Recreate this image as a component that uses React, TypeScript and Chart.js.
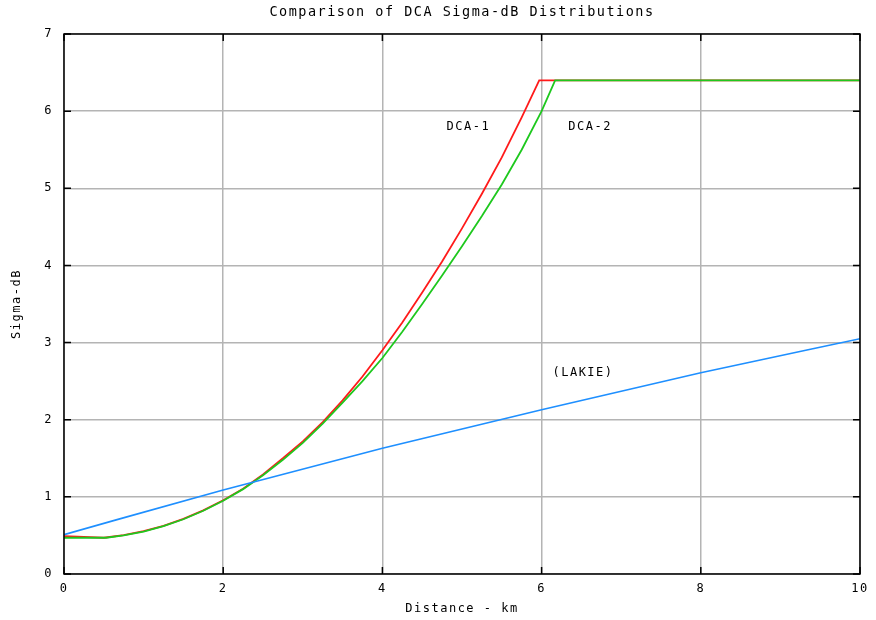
import React, { useEffect, useRef } from "react";
import { Chart, registerables } from "chart.js";

Chart.register(...registerables);

const TITLE = "Comparison of DCA Sigma-dB Distributions";
const X_TITLE = "Distance - km";
const Y_TITLE = "Sigma-dB";

const dca1X = [0, 0.5, 0.75, 1, 1.25, 1.5, 1.75, 2, 2.25, 2.5, 2.75, 3, 3.25, 3.5, 3.75, 4, 4.25, 4.5, 4.75, 5, 5.25, 5.5, 5.75, 5.97, 10];
const dca1Y = [0.49, 0.47, 0.505, 0.555, 0.625, 0.715, 0.825, 0.955, 1.105, 1.29, 1.5, 1.72, 1.97, 2.25, 2.56, 2.9, 3.26, 3.65, 4.05, 4.48, 4.93, 5.4, 5.92, 6.4, 6.4];

const dca2X = [0, 0.53, 0.75, 1, 1.25, 1.5, 1.75, 2, 2.25, 2.5, 2.75, 3, 3.25, 3.5, 3.75, 4, 4.25, 4.5, 4.75, 5, 5.25, 5.5, 5.75, 6, 6.17, 10];
const dca2Y = [0.47, 0.47, 0.5, 0.55, 0.62, 0.71, 0.82, 0.95, 1.1, 1.28, 1.48, 1.7, 1.95, 2.22, 2.5, 2.8, 3.14, 3.5, 3.87, 4.25, 4.64, 5.05, 5.5, 6.0, 6.4, 6.4];

const lakieX = [0, 2, 4, 6, 8, 10];
const lakieY = [0.51, 1.09, 1.63, 2.13, 2.61, 3.05];

const labelTexts = ["DCA-1", "DCA-2", "(LAKIE)"];
const labelX = [5.08, 6.61, 6.52];
const labelY = [5.79, 5.79, 2.61];

const FONT = "'DejaVu Sans Mono', 'Liberation Mono', monospace";

const toPoints = (xs: number[], ys: number[]) => xs.map((x, i) => ({ x, y: ys[i] }));

const spacingPlugin = {
  id: "spacing",
  beforeDraw(chart: any) {
    try {
      chart.ctx.letterSpacing = "1.5px";
    } catch (e) {}
  },
};

const framePlugin = {
  id: "frame",
  afterDatasetsDraw(chart: any) {
    const { ctx, chartArea, scales } = chart;
    const { left, right, top, bottom } = chartArea;
    ctx.save();
    ctx.strokeStyle = "#000";
    ctx.lineWidth = 1.5;
    ctx.strokeRect(left, top, right - left, bottom - top);
    const len = 7;
    ctx.beginPath();
    scales.x.ticks.forEach((t: any) => {
      const px = scales.x.getPixelForValue(t.value);
      ctx.moveTo(px, bottom);
      ctx.lineTo(px, bottom - len);
      ctx.moveTo(px, top);
      ctx.lineTo(px, top + len);
    });
    scales.y.ticks.forEach((t: any) => {
      const py = scales.y.getPixelForValue(t.value);
      ctx.moveTo(left, py);
      ctx.lineTo(left + len, py);
      ctx.moveTo(right, py);
      ctx.lineTo(right - len, py);
    });
    ctx.stroke();
    ctx.fillStyle = "#000";
    ctx.font = `12px ${FONT}`;
    ctx.textAlign = "center";
    ctx.textBaseline = "middle";
    labelTexts.forEach((txt, i) => {
      ctx.fillText(txt, scales.x.getPixelForValue(labelX[i]), scales.y.getPixelForValue(labelY[i]));
    });
    ctx.restore();
  },
};

export default function App() {
  const ref = useRef<HTMLCanvasElement | null>(null);
  useEffect(() => {
    document.body.style.margin = "0";
    const canvas = ref.current;
    if (!canvas) return;
    const chart = new Chart(canvas, {
      type: "line",
      data: {
        datasets: [
          {
            label: "LAKIE",
            data: toPoints(lakieX, lakieY),
            borderColor: "#1e8fff",
            borderWidth: 1.6,
            pointRadius: 0,
            cubicInterpolationMode: "monotone",
            order: 0,
          },
          {
            label: "DCA-2",
            data: toPoints(dca2X, dca2Y),
            borderColor: "#1ec81e",
            borderWidth: 1.8,
            pointRadius: 0,
            tension: 0,
            order: 1,
          },
          {
            label: "DCA-1",
            data: toPoints(dca1X, dca1Y),
            borderColor: "#ff1a1a",
            borderWidth: 1.8,
            pointRadius: 0,
            tension: 0,
            order: 2,
          },
        ],
      },
      options: {
        animation: false,
        responsive: false,
        maintainAspectRatio: false,
        devicePixelRatio: 1,
        layout: { padding: { top: 0, right: 16, bottom: 0, left: 0 } },
        plugins: {
          legend: { display: false },
          tooltip: { enabled: false },
          title: {
            display: true,
            text: TITLE,
            fullSize: false,
            color: "#000",
            font: { family: FONT, size: 13.5, weight: "normal" },
            padding: { top: 4, bottom: 13.8 },
          },
        },
        scales: {
          x: {
            type: "linear",
            min: 0,
            max: 10,
            ticks: {
              stepSize: 2,
              color: "#000",
              padding: 8,
              font: { family: FONT, size: 12 },
              maxRotation: 0,
            },
            grid: { color: "#b4b4b4", lineWidth: 1.5, drawTicks: false },
            border: { display: false },
            title: {
              display: true,
              text: X_TITLE,
              color: "#000",
              font: { family: FONT, size: 12 },
              padding: { top: 0, bottom: 4 },
            },
            afterFit: (scale: any) => {
              scale.height = 46;
            },
          },
          y: {
            type: "linear",
            min: 0,
            max: 7,
            ticks: {
              stepSize: 1,
              color: "#000",
              padding: 11,
              font: { family: FONT, size: 12 },
            },
            grid: { color: "#b4b4b4", lineWidth: 1.5, drawTicks: false },
            border: { display: false },
            title: {
              display: true,
              text: Y_TITLE,
              color: "#000",
              font: { family: FONT, size: 12 },
              padding: { top: 10, bottom: 0 },
            },
            afterFit: (scale: any) => {
              scale.width = 64;
            },
          },
        },
      } as any,
      plugins: [spacingPlugin, framePlugin],
    });
    return () => chart.destroy();
  }, []);
  return (
    <div style={{ position: "absolute", left: 0, top: 0, width: 876, height: 620, background: "#fff" }}>
      <canvas ref={ref} width={876} height={620} style={{ width: 876, height: 620 }} />
    </div>
  );
}
